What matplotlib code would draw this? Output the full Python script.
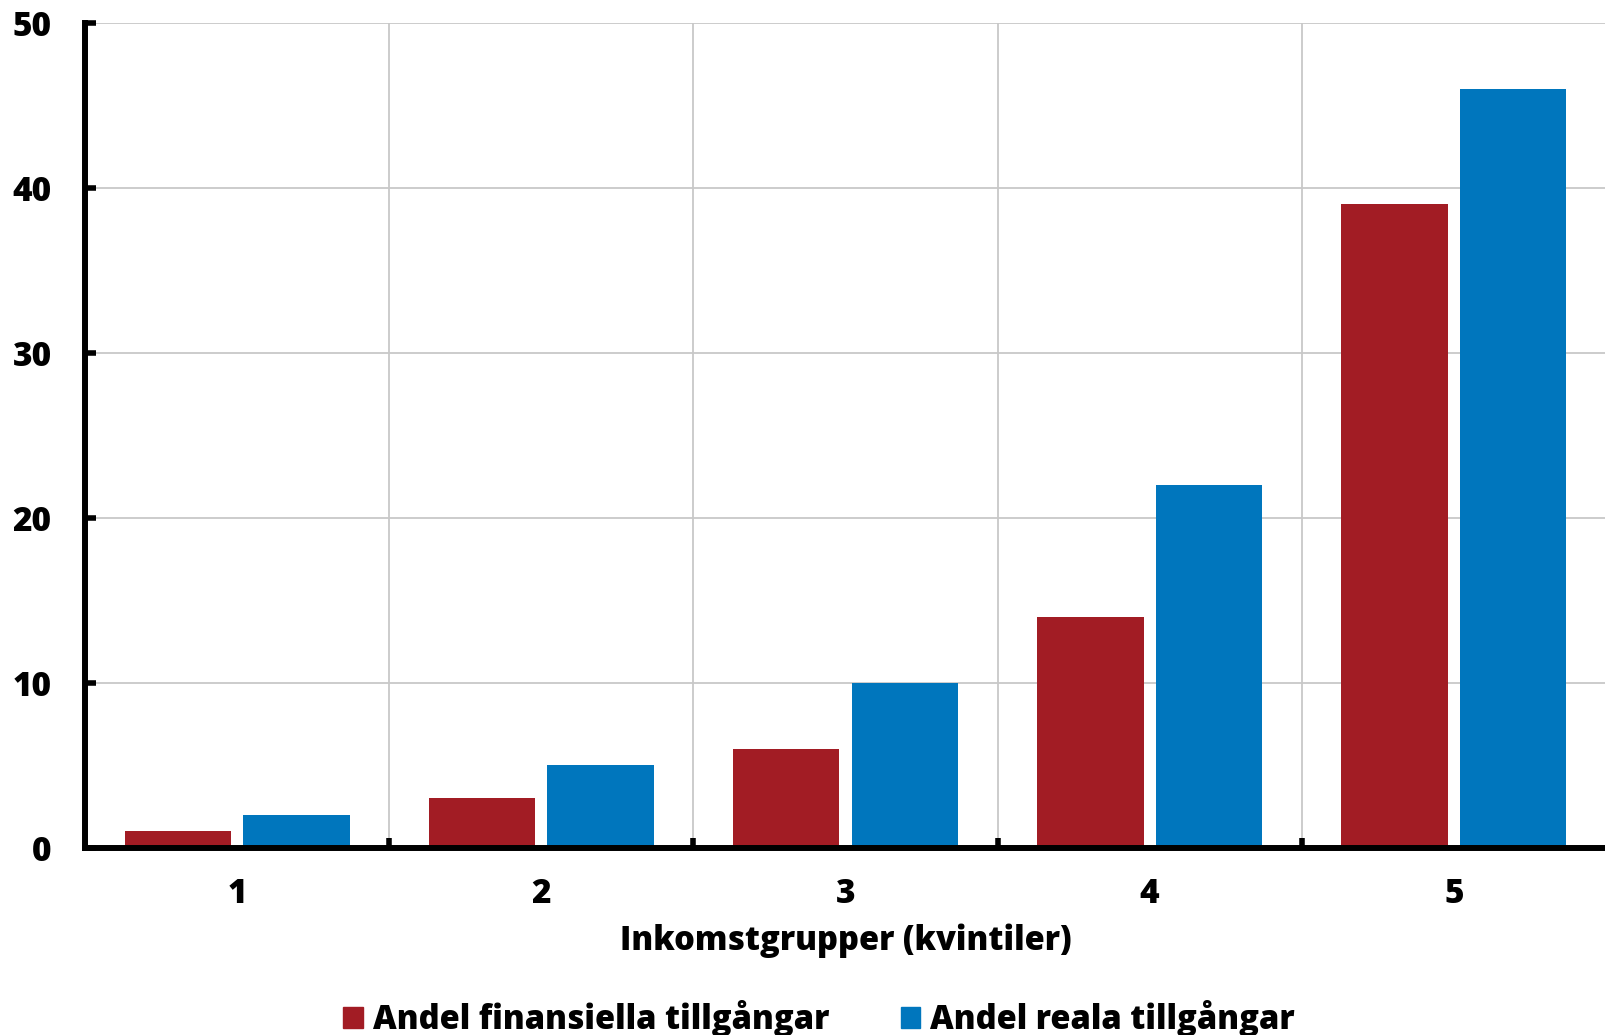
import matplotlib
matplotlib.use('Agg')
import matplotlib.pyplot as plt
import numpy as np
from matplotlib.patches import Patch

# Data
kvintiler = ["1", "2", "3", "4", "5"]
andel_finansiella = [1, 3, 6, 14, 39]
andel_reala = [2, 5, 10, 22, 46]
y_ticks = [0, 10, 20, 30, 40, 50]

RED = "#A21C24"
BLUE = "#0076BD"
WEIGHT = 'heavy'

plt.rcParams['font.family'] = ['Open Sans', 'DejaVu Sans']
plt.rcParams['font.weight'] = WEIGHT

fig = plt.figure(figsize=(16.06, 10.35), dpi=100)
ax = fig.add_axes([0.0529, 0.1807, 1 - 0.0529, 0.9778 - 0.1807])

x = np.arange(len(kvintiler))
w = 0.35
off = 0.195
ax.bar(x - off, andel_finansiella, width=w, color=RED, zorder=3)
ax.bar(x + off, andel_reala, width=w, color=BLUE, zorder=3)

ax.set_xlim(-0.5, len(kvintiler) - 0.5)
ax.set_ylim(0, 50)
ax.set_yticks(y_ticks)
ax.set_xticks(x)
ax.set_xticklabels(kvintiler)
ax.set_xticks(np.arange(0.5, len(kvintiler) - 0.5, 1), minor=True)

ax.grid(True, which='major', axis='y', color='#c8c8c8', linewidth=1.3, zorder=0)
ax.grid(True, which='minor', axis='x', color='#c8c8c8', linewidth=1.3, zorder=0)

for s in ['top', 'right']:
    ax.spines[s].set_visible(False)
for s in ['left', 'bottom']:
    ax.spines[s].set_linewidth(4.3)
    ax.spines[s].set_zorder(4)

ax.tick_params(axis='y', direction='in', length=8, width=4, pad=24, labelsize=24)
ax.tick_params(axis='x', which='major', length=0, pad=21, labelsize=24)
ax.tick_params(axis='x', which='minor', direction='in', length=7, width=4)
for lbl in ax.get_xticklabels() + ax.get_yticklabels():
    lbl.set_fontweight(WEIGHT)

ax.set_xlabel("Inkomstgrupper (kvintiler)", fontsize=23.5, fontweight=WEIGHT, labelpad=9)

handles = [Patch(color=RED, label="Andel finansiella tillgångar"),
           Patch(color=BLUE, label="Andel reala tillgångar")]
fig.legend(handles=handles, loc='lower center', bbox_to_anchor=(0.51, -0.03), ncol=2,
           frameon=False, prop={'size': 23.5, 'weight': WEIGHT},
           handlelength=0.6, handleheight=0.6, handletextpad=0.3, columnspacing=2.2)

fig.savefig("out.png", dpi=100)
